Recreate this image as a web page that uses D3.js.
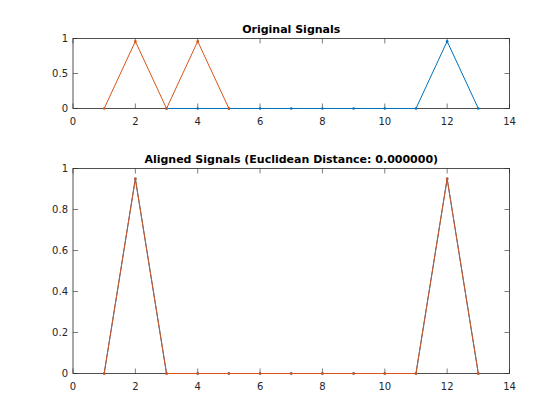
<!DOCTYPE html>
<html><head><meta charset="utf-8">
<script src="https://cdn.jsdelivr.net/npm/d3@7"></script>
<style>body{margin:0;background:#fff}svg{display:block}text{font-family:"DejaVu Sans",sans-serif}</style>
</head><body>
<script>
const xIdx = [1,2,3,4,5,6,7,8,9,10,11,12,13];
const origBlueX = [3,4,5,6,7,8,9,10,11,12,13];
const origBlue = [0,0,0,0,0,0,0,0,0,0.96,0];
const origOrangeX = [1,2,3,4,5];
const origOrange = [0,0.96,0,0.96,0];
const alignedBlue = [0,0.95,0,0,0,0,0,0,0,0,0,0.95,0];
const alignedOrange = [0,0.95,0,0,0,0,0,0,0,0,0,0.95,0];
const xTicks = [0,2,4,6,8,10,12,14];
const yTicksTop = [0,0.5,1];
const yTicksBot = [0,0.2,0.4,0.6,0.8,1];
const blue = "#0072BD", orange = "#D95319";

const W=560,H=420;
const svg=d3.select("body").append("svg").attr("width",W).attr("height",H);

function panel(top,bottom,yTicks,title,series){
  const left=73,right=509.5;
  const x=d3.scaleLinear().domain([0,14]).range([left,right]);
  const y=d3.scaleLinear().domain([0,1]).range([bottom,top]);
  const g=svg.append("g");
  const tl=5;
  const axc="#262626";
  g.append("rect").attr("x",left).attr("y",top).attr("width",right-left).attr("height",bottom-top).attr("fill","none").attr("stroke",axc).attr("stroke-width",0.8);
  xTicks.forEach(t=>{
    g.append("line").attr("x1",x(t)).attr("x2",x(t)).attr("y1",bottom).attr("y2",bottom-tl).attr("stroke",axc).attr("stroke-width",0.6);
    g.append("line").attr("x1",x(t)).attr("x2",x(t)).attr("y1",top).attr("y2",top+tl).attr("stroke",axc).attr("stroke-width",0.6);
    g.append("text").attr("x",x(t)).attr("y",bottom+16).attr("text-anchor","middle").attr("font-size",10).attr("fill",axc).text(t);
  });
  yTicks.forEach(t=>{
    g.append("line").attr("x1",left).attr("x2",left+tl).attr("y1",y(t)).attr("y2",y(t)).attr("stroke",axc).attr("stroke-width",0.6);
    g.append("line").attr("x1",right).attr("x2",right-tl).attr("y1",y(t)).attr("y2",y(t)).attr("stroke",axc).attr("stroke-width",0.6);
    g.append("text").attr("x",left-5).attr("y",y(t)+3.5).attr("text-anchor","end").attr("font-size",10).attr("fill",axc).text(t);
  });
  series.forEach(s=>{
    const line=d3.line().x((d,i)=>x(s.x[i])).y(d=>y(d));
    g.append("path").datum(s.v).attr("d",line).attr("fill","none").attr("stroke",s.c).attr("stroke-width",1);
    g.selectAll(null).data(s.v).enter().append("circle").attr("cx",(d,i)=>x(s.x[i])).attr("cy",d=>y(d)).attr("r",1.3).attr("fill",s.c);
  });
  g.append("text").attr("x",(left+right)/2).attr("y",top-6).attr("text-anchor","middle").attr("font-size",11).attr("font-weight","bold").attr("fill","#000").text(title);
}
panel(38.5,108.5,yTicksTop,"Original Signals",[{x:origBlueX,v:origBlue,c:blue},{x:origOrangeX,v:origOrange,c:orange}]);
panel(168.5,373.5,yTicksBot,"Aligned Signals (Euclidean Distance: 0.000000)",[{x:xIdx,v:alignedBlue,c:blue},{x:xIdx,v:alignedOrange,c:orange}]);
</script>
</body></html>
